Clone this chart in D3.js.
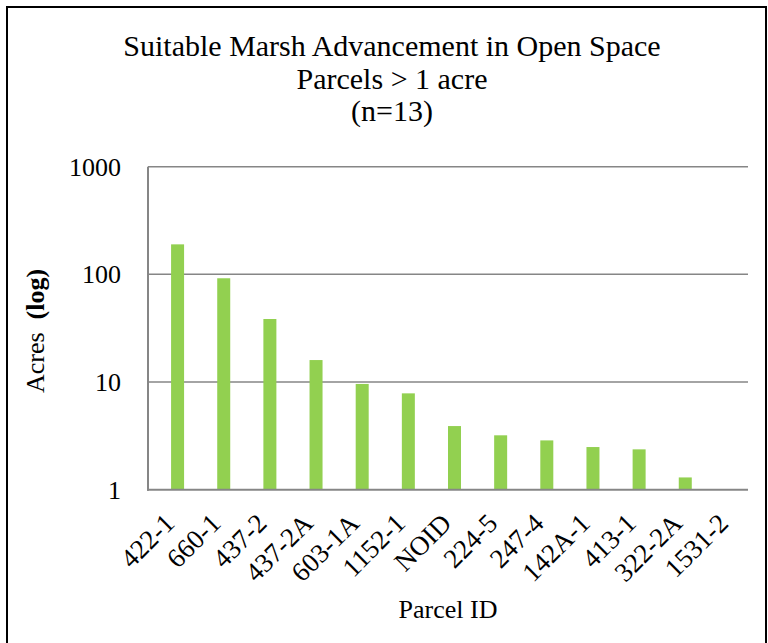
<!DOCTYPE html>
<html>
<head>
<meta charset="utf-8">
<script src="https://cdn.jsdelivr.net/npm/d3@7"></script>
<style>
  body { margin: 0; background: #fff; }
  text { font-family: "Liberation Serif", "DejaVu Serif", serif; fill: #000; }
</style>
</head>
<body>
<svg id="chart"></svg>
<script>
// parcels (log axis)
var parcels = ["422-1", "660-1", "437-2", "437-2A", "603-1A", "1152-1", "NOID",
               "224-5", "247-4", "142A-1", "413-1", "322-2A", "1531-2"]
var acres = [190, 92, 38.5, 16, 9.6, 7.85, 3.9, 3.2, 2.87, 2.49, 2.37, 1.3, 1]
var yTicks = [1, 10, 100, 1000]
var titleLines = ["Suitable Marsh Advancement in Open Space", "Parcels > 1 acre", "(n=13)"]

var width = 768
var height = 643
var plot = {left: 148, right: 748, top: 166.7, bottom: 489.7}

var svg = d3.select("#chart")
    .attr("width", width)
    .attr("height", height)

// outer frame
svg.append("rect")
    .attr("x", 7).attr("y", 7)
    .attr("width", 759).attr("height", 660)
    .attr("fill", "none")
    .attr("stroke", "#000")
    .attr("stroke-width", 2)

var x = d3.scaleBand()
    .domain(parcels)
    .range([plot.left, plot.right])

var y = d3.scaleLog()
    .domain([1, 1000])
    .range([plot.bottom, plot.top])

// gridlines
svg.append("g")
    .selectAll("line")
    .data(yTicks.slice(1))
    .enter()
    .append("line")
    .attr("x1", plot.left).attr("x2", plot.right)
    .attr("y1", d => y(d)).attr("y2", d => y(d))
    .attr("stroke", "#868686")
    .attr("stroke-width", 1.5)

// bars (second slot of each category, like excel with an empty first series)
var barW = 13
svg.append("g")
    .selectAll("rect")
    .data(parcels)
    .enter()
    .append("rect")
    .attr("x", d => x(d) + x.bandwidth() / 2)
    .attr("width", barW)
    .attr("y", (d, i) => y(acres[i]))
    .attr("height", (d, i) => y(1) - y(acres[i]))
    .attr("fill", "#92d050")

// axis lines
svg.append("line")
    .attr("x1", plot.left).attr("x2", plot.left)
    .attr("y1", plot.top).attr("y2", plot.bottom + 1)
    .attr("stroke", "#868686").attr("stroke-width", 2)
svg.append("line")
    .attr("x1", plot.left - 1).attr("x2", plot.right)
    .attr("y1", plot.bottom).attr("y2", plot.bottom)
    .attr("stroke", "#868686").attr("stroke-width", 2)

// y tick labels
svg.append("g")
    .selectAll("text")
    .data(yTicks)
    .enter()
    .append("text")
    .attr("x", 121)
    .attr("y", d => y(d))
    .attr("dy", "0.35em")
    .attr("text-anchor", "end")
    .attr("font-size", 26)
    .text(d => d)

// x tick labels, rotated
svg.append("g")
    .selectAll("text")
    .data(parcels)
    .enter()
    .append("text")
    .attr("text-anchor", "end")
    .attr("font-size", 27)
    .attr("transform", d => "translate(" + (x(d) + x.bandwidth() / 2 + 5) + "," + 525 + ") rotate(-45)")
    .text(d => d)

// title
var title = svg.append("text")
    .attr("text-anchor", "middle")
    .attr("font-size", 30)
title.selectAll("tspan")
    .data(titleLines)
    .enter()
    .append("tspan")
    .attr("x", 392)
    .attr("y", (d, i) => 56 + i * 32.5)
    .text(d => d)

// axis titles
svg.append("text")
    .attr("x", 448)
    .attr("y", 618)
    .attr("text-anchor", "middle")
    .attr("font-size", 26)
    .text("Parcel ID")

var ylab = svg.append("text")
    .attr("transform", "translate(44,331) rotate(-90)")
    .attr("text-anchor", "middle")
    .attr("font-size", 26)
ylab.append("tspan").text("Acres\u00a0 ")
ylab.append("tspan").attr("font-weight", "bold").text("(log)")
</script>
</body>
</html>
